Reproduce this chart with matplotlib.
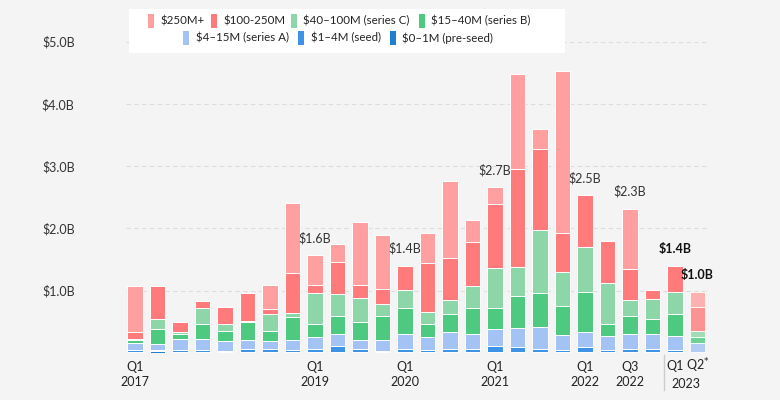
"""Stacked quarterly funding bars by round size, Q1 2017 to Q2 2023."""

import matplotlib.pyplot as plt
from matplotlib.patches import Rectangle
from matplotlib.transforms import blended_transform_factory

plt.rcParams['font.family'] = ['Lato', 'DejaVu Sans']

# Quarters (26 bars)
quarters = ['Q1 2017', 'Q2 2017', 'Q3 2017', 'Q4 2017',
            'Q1 2018', 'Q2 2018', 'Q3 2018', 'Q4 2018',
            'Q1 2019', 'Q2 2019', 'Q3 2019', 'Q4 2019',
            'Q1 2020', 'Q2 2020', 'Q3 2020', 'Q4 2020',
            'Q1 2021', 'Q2 2021', 'Q3 2021', 'Q4 2021',
            'Q1 2022', 'Q2 2022', 'Q3 2022', 'Q4 2022',
            'Q1 2023', 'Q2 2023']

# Amount raised per round size, $B (bottom to top)
pre_seed = [0.02, 0.03, 0.01, 0.02, 0.01, 0.01, 0.01, 0.02,
            0.02, 0.02, 0.02, 0.02, 0.02, 0.02, 0.02, 0.02,
            0.02, 0.02, 0.02, 0.02, 0.02, 0.02, 0.02, 0.02,
            0.02, 0.01]
seed = [0.03, 0.02, 0.04, 0.03, 0.03, 0.05, 0.05, 0.03,
        0.04, 0.09, 0.04, 0.02, 0.04, 0.03, 0.05, 0.04,
        0.09, 0.07, 0.04, 0.03, 0.07, 0.03, 0.04, 0.05,
        0.03, 0.01]
series_a = [0.11, 0.10, 0.17, 0.18, 0.15, 0.15, 0.13, 0.16,
            0.19, 0.20, 0.15, 0.17, 0.24, 0.21, 0.26, 0.25,
            0.28, 0.31, 0.36, 0.24, 0.25, 0.23, 0.25, 0.24,
            0.23, 0.14]
series_b = [0.05, 0.24, 0.08, 0.23, 0.16, 0.29, 0.17, 0.36,
            0.21, 0.28, 0.28, 0.39, 0.43, 0.21, 0.29, 0.41,
            0.34, 0.52, 0.55, 0.46, 0.64, 0.18, 0.29, 0.23,
            0.35, 0.09]
series_c = [0.02, 0.16, 0.04, 0.26, 0.12, 0.02, 0.26, 0.08,
            0.51, 0.36, 0.39, 0.19, 0.28, 0.19, 0.23, 0.36,
            0.64, 0.46, 1.01, 0.55, 0.72, 0.67, 0.25, 0.32,
            0.35, 0.11]
mid_100_250 = [0.11, 0.52, 0.15, 0.11, 0.27, 0.44, 0.09, 0.64,
               0.12, 0.51, 0.21, 0.23, 0.39, 0.79, 0.67, 0.70,
               1.02, 1.57, 1.30, 0.62, 0.83, 0.67, 0.50, 0.15,
               0.41, 0.38]
big_250 = [0.74, 0.00, 0.00, 0.00, 0.00, 0.00, 0.38, 1.12,
           0.48, 0.29, 1.01, 0.87, 0.00, 0.47, 1.24, 0.35,
           0.27, 1.53, 0.31, 2.60, 0.00, 0.00, 0.96, 0.00,
           0.00, 0.24]

series = [pre_seed, seed, series_a, series_b, series_c, mid_100_250, big_250]
series_names = ['$0–1M (pre-seed)', '$1–4M (seed)', '$4–15M (series A)',
                '$15–40M (series B)', '$40–100M (series C)',
                '$100-250M', '$250M+']
colors = ['#1f7fd0', '#3d94e6', '#a2c3f3', '#4dca80', '#8cd6a8',
          '#ff7a7a', '#ff9f9f']

# Total labels above selected bars
label_quarters = ['Q1 2019', 'Q1 2020', 'Q1 2021', 'Q1 2022',
                  'Q3 2022', 'Q1 2023', 'Q2 2023']
label_texts = ['$1.6B', '$1.4B', '$2.7B', '$2.5B', '$2.3B', '$1.4B', '$1.0B']
label_bold = [False, False, False, False, False, True, True]

# Tick labels under the axis
tick_quarters = ['Q1 2017', 'Q1 2019', 'Q1 2020', 'Q1 2021',
                 'Q1 2022', 'Q3 2022']
y_ticks = [1, 2, 3, 4, 5]
y_tick_labels = ['$1.0B', '$2.0B', '$3.0B', '$4.0B', '$5.0B']

BG = '#f4f4f4'
W, H = 780, 400

fig = plt.figure(figsize=(7.8, 4.0), dpi=100, facecolor=BG)
ax = fig.add_axes([126 / W, 47 / H, 582 / W, 311.5 / H], facecolor=BG)

bottoms = [0.0] * len(quarters)
for vals, col in zip(series, colors):
    for i, v in enumerate(vals):
        if v <= 0:
            continue
        alpha = 0.8 if i == len(quarters) - 1 else 1.0  # partial quarter
        ax.bar(i, v, bottom=bottoms[i], width=0.7, color=col, alpha=alpha,
               edgecolor=(1, 1, 1, 0.55), linewidth=0.7, zorder=3)
    bottoms = [b + v for b, v in zip(bottoms, vals)]

ax.set_xlim(-0.4, 25.47)
ax.set_ylim(0, 5)
ax.set_yticks(y_ticks)
ax.set_yticklabels(y_tick_labels, fontsize=9, color='#333333')
ax.tick_params(axis='y', length=0, pad=37)
ax.set_xticks([])
ax.grid(axis='y', linestyle=(0, (4, 3)), color='#dddddd', linewidth=0.8, zorder=0)
for s in ax.spines.values():
    s.set_visible(False)

# Totals above bars
for q, t, b in zip(label_quarters, label_texts, label_bold):
    i = quarters.index(q)
    ax.annotate(t, (i, bottoms[i]), xytext=(0, 8), textcoords='offset points',
                ha='center', va='bottom', fontsize=9,
                fontweight='bold' if b else 'normal',
                color='#111111' if b else '#333333', zorder=5)

# X labels (quarter on top, year below)
trans = blended_transform_factory(ax.transData, fig.transFigure)
for q in tick_quarters:
    i = quarters.index(q)
    qq, yr = q.split()
    fig.text(i, 1 - 367 / H, qq, transform=trans, ha='center', va='center',
             fontsize=9, color='#222222')
    fig.text(i, 1 - 382 / H, yr, transform=trans, ha='center', va='center',
             fontsize=9, color='#222222')
i1 = quarters.index('Q1 2023')
i2 = quarters.index('Q2 2023')
fig.text(i1, 1 - 366 / H, 'Q1', transform=trans, ha='center', va='center',
         fontsize=9, color='#222222')
fig.text(i2, 1 - 366 / H, 'Q2$^{*}$', transform=trans, ha='center', va='center',
         fontsize=9, color='#222222')
fig.text((i1 + i2) / 2, 1 - 384 / H, '2023', transform=trans, ha='center',
         va='center', fontsize=9, color='#222222')
fig.add_artist(plt.Line2D([i1 - 0.5, i1 - 0.5], [1 - 355 / H, 1 - 390 / H],
                          transform=trans, color='#cccccc', linewidth=1))

# Legend box drawn by hand (two centred rows)
fig.patches.append(Rectangle((129 / W, 1 - 53 / H), 436 / W, 44 / H,
                             transform=fig.transFigure, facecolor='white',
                             edgecolor='none', zorder=10))
legend_rows = [
    (21, [(6, 148, 160), (5, 211, 223), (4, 291, 303), (3, 419, 431)]),
    (38, [(2, 183, 196), (1, 298, 311), (0, 390, 402)]),
]
for y, items in legend_rows:
    for k, mx, tx in items:
        fig.patches.append(Rectangle((mx / W, 1 - (y + 7) / H), 6 / W, 14 / H,
                                     transform=fig.transFigure,
                                     facecolor=colors[k], edgecolor='none',
                                     zorder=11))
        fig.text(tx / W, 1 - y / H, series_names[k], ha='left', va='center',
                 fontsize=8.3, color='#222222', zorder=12)

fig.savefig('out.png', dpi=100, facecolor=BG)
